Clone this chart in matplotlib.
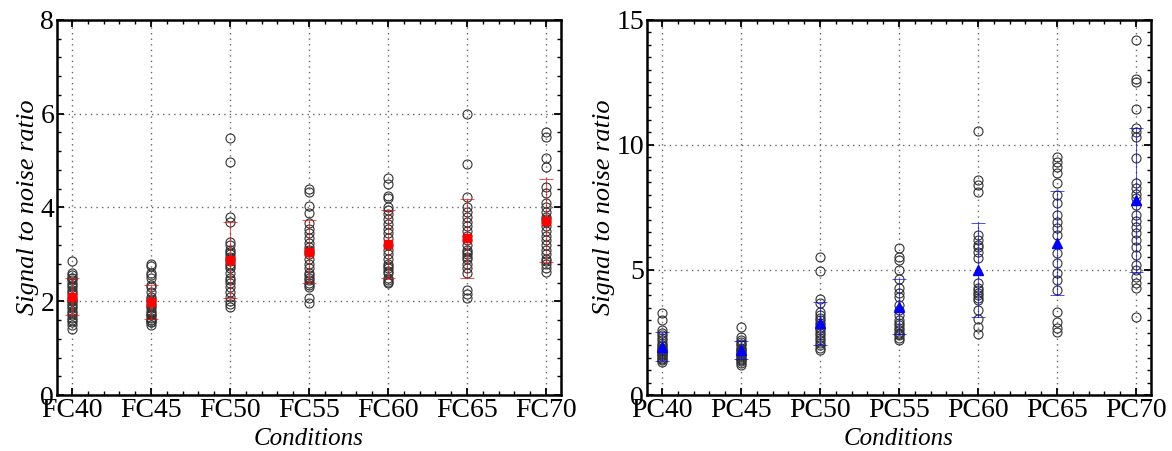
import matplotlib
matplotlib.use("Agg")
import matplotlib.pyplot as plt
from matplotlib.ticker import MultipleLocator

# conditions
fc_labels = ["FC40", "FC45", "FC50", "FC55", "FC60", "FC65", "FC70"]
pc_labels = ["PC40", "PC45", "PC50", "PC55", "PC60", "PC65", "PC70"]

# individual SNR values
fc40 = [2.85, 2.6, 2.55, 2.5, 2.5, 2.45, 2.4, 2.35, 2.3, 2.25, 2.2, 2.15, 2.1, 2.05,
        2.0, 2.0, 1.95, 1.9, 1.85, 1.8, 1.75, 1.7, 1.65, 1.6, 1.55, 1.5, 1.4]
fc45 = [2.8, 2.75, 2.6, 2.55, 2.5, 2.35, 2.3, 2.2, 2.1, 2.05, 2.0, 1.95, 1.9, 1.85,
        1.8, 1.75, 1.7, 1.7, 1.65, 1.6, 1.6, 1.55, 1.55, 1.5]
fc50 = [5.49, 4.96, 3.8, 3.7, 3.27, 3.2, 3.1, 3.05, 3.0, 2.95, 2.9, 2.85, 2.8, 2.75,
        2.7, 2.6, 2.5, 2.45, 2.4, 2.3, 2.2, 2.1, 2.0, 1.95, 1.88]
fc55 = [4.4, 4.32, 4.04, 3.88, 3.66, 3.55, 3.45, 3.35, 3.25, 3.15, 3.1, 3.05, 3.0,
        2.9, 2.8, 2.7, 2.6, 2.55, 2.5, 2.45, 2.4, 2.35, 2.31, 2.06, 1.96]
fc60 = [4.62, 4.5, 4.25, 4.2, 4.02, 3.95, 3.85, 3.75, 3.65, 3.55, 3.45, 3.35, 3.2,
        3.1, 3.0, 2.9, 2.8, 2.75, 2.7, 2.65, 2.6, 2.5, 2.45, 2.42, 2.38]
fc65 = [5.99, 4.92, 4.23, 4.02, 3.9, 3.8, 3.7, 3.6, 3.5, 3.4, 3.3, 3.2, 3.1, 3.05,
        3.0, 2.95, 2.9, 2.8, 2.7, 2.6, 2.24, 2.16, 2.08]
fc70 = [5.6, 5.5, 5.05, 4.87, 4.44, 4.3, 4.1, 4.0, 3.9, 3.8, 3.75, 3.7, 3.6, 3.5,
        3.4, 3.3, 3.2, 3.1, 3.0, 2.9, 2.85, 2.8, 2.7, 2.63]

pc40 = [3.27, 3.0, 2.6, 2.5, 2.4, 2.3, 2.2, 2.1, 2.0, 1.95, 1.9, 1.85, 1.8, 1.75,
        1.7, 1.65, 1.6, 1.55, 1.5, 1.45, 1.4, 1.33]
pc45 = [2.73, 2.33, 2.2, 2.13, 2.05, 2.0, 1.9, 1.85, 1.8, 1.75, 1.7, 1.65, 1.6,
        1.55, 1.5, 1.45, 1.4, 1.35, 1.3, 1.2]
pc50 = [5.51, 4.97, 3.83, 3.67, 3.33, 3.2, 3.1, 3.0, 2.9, 2.8, 2.7, 2.6, 2.5, 2.4,
        2.3, 2.2, 2.1, 2.0, 1.9, 1.8]
pc55 = [5.87, 5.53, 5.4, 5.0, 4.63, 4.3, 4.08, 3.93, 3.6, 3.4, 3.2, 3.0, 2.9, 2.8,
        2.7, 2.6, 2.5, 2.45, 2.4, 2.3, 2.2]
pc60 = [10.56, 8.6, 8.4, 8.13, 6.4, 6.2, 6.0, 5.9, 5.7, 5.47, 4.47, 4.3, 4.2, 4.1,
        4.0, 3.9, 3.8, 3.4, 3.03, 2.73, 2.43]
pc65 = [9.53, 9.33, 9.13, 8.87, 8.47, 8.0, 7.67, 7.2, 6.9, 6.67, 6.4, 5.67, 5.27,
        4.87, 4.6, 4.2, 3.33, 2.93, 2.67, 2.53]
pc70 = [14.2, 12.63, 12.5, 11.43, 10.67, 10.53, 10.33, 9.47, 8.47, 8.27, 8.05,
        7.87, 7.6, 7.2, 6.95, 6.73, 6.47, 6.2, 5.93, 5.6, 5.2, 5.0, 4.73, 4.5,
        4.27, 3.13]

fc_values = [fc40, fc45, fc50, fc55, fc60, fc65, fc70]
pc_values = [pc40, pc45, pc50, pc55, pc60, pc65, pc70]

# means and standard deviations
fc_mean = [2.10, 1.98, 2.89, 3.06, 3.22, 3.34, 3.72]
fc_std = [0.40, 0.36, 0.81, 0.67, 0.73, 0.85, 0.88]
pc_mean = [1.93, 1.80, 2.87, 3.53, 5.00, 6.07, 7.80]
pc_std = [0.58, 0.36, 0.86, 1.10, 1.87, 2.07, 2.87]

plt.rcParams['font.family'] = ['Liberation Serif', 'DejaVu Serif']

fig = plt.figure(figsize=(11.72, 4.51), dpi=100)
ax1 = fig.add_axes([0.0486, 0.124, 0.430, 0.832])
ax2 = fig.add_axes([0.552, 0.124, 0.430, 0.832])


def draw_panel(ax, labels, values, mean, std, color, marker, msize, ymax, major, minor):
    x = list(range(1, len(labels) + 1))
    for xi, vals in zip(x, values):
        ax.plot([xi] * len(vals), vals, 'o', mfc='none', mec='#333333',
                ms=6.5, mew=0.8, zorder=3)
    ax.errorbar(x, mean, yerr=std, fmt='none', ecolor=color, elinewidth=0.7,
                capsize=5, capthick=0.7, alpha=0.7, zorder=4)
    ax.plot(x, mean, marker, color=color, ms=msize, ls='none', zorder=5)

    ax.set_xlim(0.81, 7.19)
    ax.set_ylim(0, ymax)
    ax.set_xticks(x)
    ax.set_xticklabels(labels)
    ax.yaxis.set_major_locator(MultipleLocator(major))
    ax.yaxis.set_minor_locator(MultipleLocator(minor))
    ax.xaxis.set_minor_locator(MultipleLocator(0.2))
    ax.grid(True, which='major', ls=(0, (1, 3)), color='#666666', lw=1.0)
    ax.tick_params(which='both', direction='in', top=True, right=True,
                   labelsize=20, pad=2)
    ax.tick_params(which='major', length=5, width=1.3)
    ax.tick_params(which='minor', length=3, width=1.0)
    for sp in ax.spines.values():
        sp.set_linewidth(1.8)
    ax.set_xlabel('Conditions', fontsize=18, style='italic', labelpad=4)
    ax.set_ylabel('Signal to noise ratio', fontsize=19, style='italic', labelpad=1)


draw_panel(ax1, fc_labels, fc_values, fc_mean, fc_std, 'red', 's', 6, 8, 2, 0.4)
draw_panel(ax2, pc_labels, pc_values, pc_mean, pc_std, 'blue', '^', 7, 15, 5, 0.5)

fig.savefig('out.png', dpi=100)
